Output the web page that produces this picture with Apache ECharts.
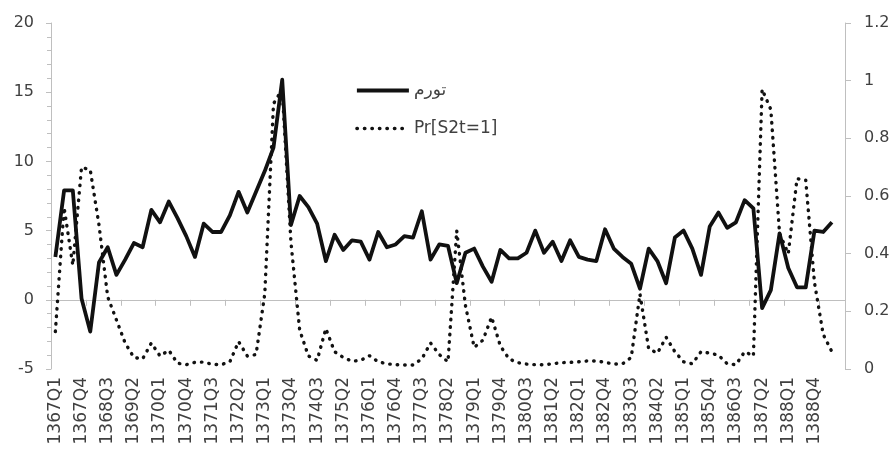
<!DOCTYPE html>
<html>
<head>
<meta charset="utf-8">
<script src="https://cdn.jsdelivr.net/npm/echarts@6/dist/echarts.min.js"></script>
<style>
html,body{margin:0;padding:0;background:#fff;}
#chart{width:893px;height:453px;}
</style>
</head>
<body>
<div id="chart"></div>
<script>
var categories = [
"1367Q1","1367Q2","1367Q3","1367Q4","1368Q1","1368Q2","1368Q3","1368Q4",
"1369Q1","1369Q2","1369Q3","1369Q4","1370Q1","1370Q2","1370Q3","1370Q4",
"1371Q1","1371Q2","1371Q3","1371Q4","1372Q1","1372Q2","1372Q3","1372Q4",
"1373Q1","1373Q2","1373Q3","1373Q4","1374Q1","1374Q2","1374Q3","1374Q4",
"1375Q1","1375Q2","1375Q3","1375Q4","1376Q1","1376Q2","1376Q3","1376Q4",
"1377Q1","1377Q2","1377Q3","1377Q4","1378Q1","1378Q2","1378Q3","1378Q4",
"1379Q1","1379Q2","1379Q3","1379Q4","1380Q1","1380Q2","1380Q3","1380Q4",
"1381Q1","1381Q2","1381Q3","1381Q4","1382Q1","1382Q2","1382Q3","1382Q4",
"1383Q1","1383Q2","1383Q3","1383Q4","1384Q1","1384Q2","1384Q3","1384Q4",
"1385Q1","1385Q2","1385Q3","1385Q4","1386Q1","1386Q2","1386Q3","1386Q4",
"1387Q1","1387Q2","1387Q3","1387Q4","1388Q1","1388Q2","1388Q3","1388Q4",
"1389Q1","1389Q2","1389Q3"
];

// تورم (left axis)
var inflation = [
3.1, 7.9, 7.9, 0.1, -2.3, 2.7, 3.8, 1.8, 2.9, 4.1,
3.8, 6.5, 5.6, 7.1, 5.9, 4.6, 3.1, 5.5, 4.9, 4.9,
6.1, 7.8, 6.3, 7.8, 9.3, 11.0, 15.9, 5.4, 7.5, 6.7,
5.5, 2.8, 4.7, 3.6, 4.3, 4.2, 2.9, 4.9, 3.8, 4.0,
4.6, 4.5, 6.4, 2.9, 4.0, 3.9, 1.2, 3.4, 3.7, 2.4,
1.3, 3.6, 3.0, 3.0, 3.4, 5.0, 3.4, 4.2, 2.8, 4.3,
3.1, 2.9, 2.8, 5.1, 3.7, 3.1, 2.6, 0.8, 3.7, 2.8,
1.2, 4.5, 5.0, 3.7, 1.8, 5.3, 6.3, 5.2, 5.6, 7.2,
6.6, -0.6, 0.7, 4.8, 2.3, 0.9, 0.9, 5.0, 4.9, 5.6
];

// Pr[S2t=1] (right axis)
var prob = [
0.13, 0.56, 0.36, 0.70, 0.69, 0.50, 0.25, 0.17, 0.09, 0.04,
0.035, 0.09, 0.045, 0.065, 0.02, 0.015, 0.023, 0.024, 0.016, 0.015,
0.025, 0.095, 0.045, 0.05, 0.26, 0.92, 0.97, 0.44, 0.135, 0.045,
0.03, 0.14, 0.06, 0.04, 0.027, 0.03, 0.046, 0.025, 0.018, 0.015,
0.014, 0.014, 0.035, 0.09, 0.05, 0.025, 0.48, 0.22, 0.075, 0.10,
0.18, 0.08, 0.035, 0.022, 0.017, 0.015, 0.015, 0.018, 0.022, 0.023,
0.025, 0.028, 0.028, 0.023, 0.017, 0.018, 0.04, 0.26, 0.07, 0.055,
0.11, 0.06, 0.025, 0.018, 0.06, 0.055, 0.048, 0.018, 0.015, 0.06,
0.045, 0.97, 0.90, 0.47, 0.40, 0.66, 0.655, 0.30, 0.12, 0.06
];

var seriesNames = ["تورم", "Pr[S2t=1]"];

var axisColor = "#bfbfbf";
var textColor = "#404040";
var lineColor = "#111111";
var font = "DejaVu Sans";
var lastDataIndex = inflation.length - 1;
var solidStyle = {color: lineColor, width: 3.8, join: "round"};
var dottedStyle = {color: lineColor, width: 3.4, type: [0.5, 7], cap: "round"};

var chart = echarts.init(document.getElementById("chart"), null, {renderer: "canvas"});
chart.setOption({
  animation: false,
  backgroundColor: "#ffffff",
  grid: {left: 51, right: 48, top: 23, bottom: 84, containLabel: false},
  legend: {
    orient: "vertical",
    left: 355,
    top: 82,
    padding: 0,
    itemWidth: 52,
    itemHeight: 17,
    itemGap: 21,
    itemStyle: {color: "rgba(0,0,0,0)", borderColor: "rgba(0,0,0,0)", borderWidth: 0, opacity: 0},
    textStyle: {fontFamily: font, fontSize: 17, color: textColor},
    data: [
      {name: seriesNames[0], lineStyle: {color: lineColor, width: 3.8}},
      {name: seriesNames[1], lineStyle: {color: lineColor, width: 3.4, type: [0.5, 7], cap: "round"}}
    ]
  },
  xAxis: {
    type: "category",
    data: categories,
    boundaryGap: true,
    axisLine: {lineStyle: {color: axisColor, width: 1}},
    axisTick: {show: true, interval: 3, length: 6, lineStyle: {color: axisColor}},
    axisLabel: {
      interval: function (index) { return index % 3 === 0 && index <= lastDataIndex; },
      rotate: 90, margin: 8, fontFamily: font, fontSize: 17, color: textColor
    },
    splitLine: {show: false}
  },
  yAxis: [
    {
      type: "value",
      min: -5, max: 20, interval: 5,
      position: "left",
      axisLine: {show: true, lineStyle: {color: axisColor}},
      axisTick: {show: true, length: 5, lineStyle: {color: axisColor}},
      minorTick: {show: true, splitNumber: 5, length: 4, lineStyle: {color: axisColor}},
      axisLabel: {margin: 17, fontFamily: font, fontSize: 16, color: textColor},
      splitLine: {show: false}
    },
    {
      type: "value",
      min: 0, max: 1.2, interval: 0.2,
      position: "right",
      axisLine: {show: true, lineStyle: {color: axisColor}},
      axisTick: {show: true, length: 6, lineStyle: {color: axisColor}},
      axisLabel: {margin: 19, fontFamily: font, fontSize: 16, color: textColor},
      splitLine: {show: false}
    }
  ],
  series: [
    {
      name: seriesNames[0],
      type: "line",
      yAxisIndex: 0,
      data: inflation,
      symbol: "none",
      lineStyle: solidStyle,
      itemStyle: {color: lineColor},
      z: 3
    },
    {
      name: seriesNames[1],
      type: "line",
      yAxisIndex: 1,
      data: prob,
      symbol: "none",
      lineStyle: dottedStyle,
      itemStyle: {color: lineColor},
      z: 2
    }
  ]
});
</script>
</body>
</html>
